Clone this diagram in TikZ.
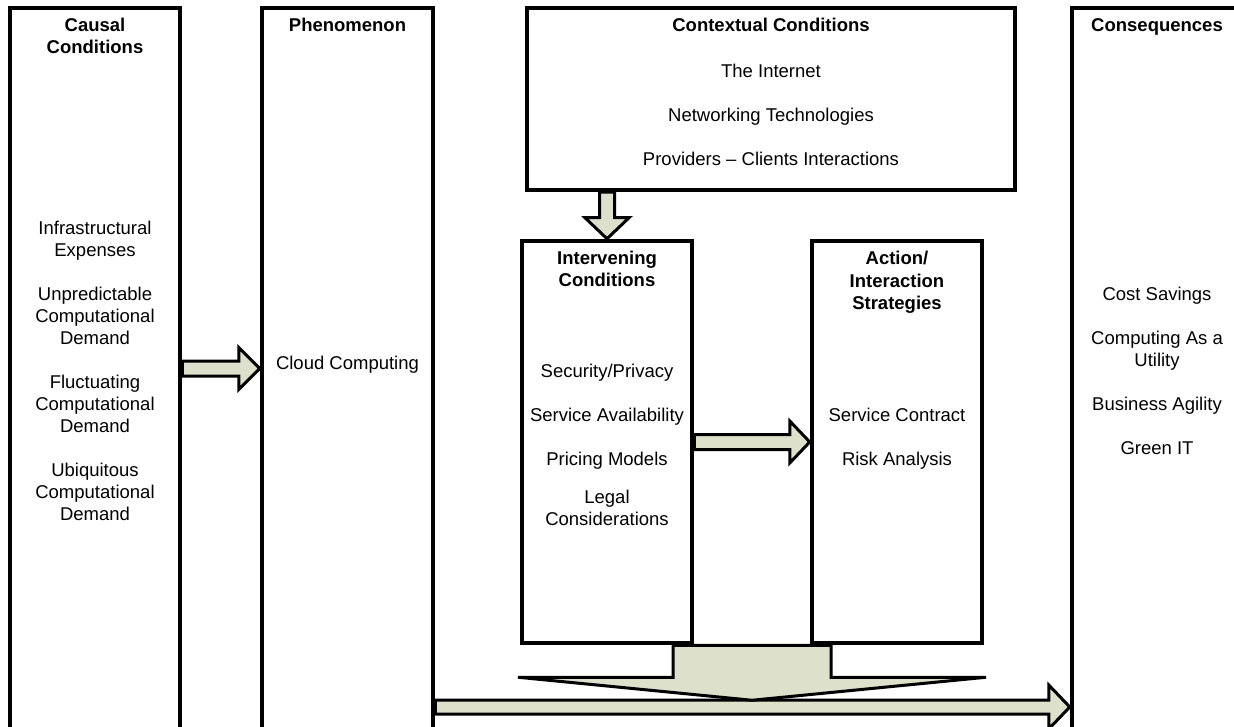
\documentclass[tikz,border=0pt]{standalone}
\usepackage{fontspec}
\setmainfont{Liberation Sans}
\usetikzlibrary{calc,backgrounds}
\definecolor{flowfill}{RGB}{221,225,203}
\tikzset{>=latex}

\begin{document}
\begin{tikzpicture}[x=1pt, y=-1pt,
	stage/.style={draw=black, line width=4.5pt, inner sep=0pt, minimum width=170pt},
	title/.style={font=\fontsize{18.5}{22}\selectfont\bfseries, align=center, anchor=base},
	items/.style={font=\fontsize{18.5}{22}\selectfont, align=center, anchor=base},
	flow/.style={draw=black, line width=3pt, fill=flowfill, line join=miter}]

	\useasboundingbox (0,0) rectangle (1234,727);

	% Boxes

	\node[stage, minimum height=721pt](causal) at (95,368.5) {};

	\node[stage, minimum width=171pt, minimum height=721pt](phenomenon) at (347.5,368.5) {};

	\node[stage, minimum width=488pt, minimum height=182pt](contextual) at (771,99) {};

	\node[stage, minimum height=402pt](intervening) at (607,442) {};

	\node[stage, minimum height=402pt](action) at (897,442) {};

	\node[stage, minimum height=721pt](consequences) at (1157,368.5) {};

	% Titles (placed by the baseline of their last line)

	\node[title](causal-title) at (95,54) {Causal\\Conditions};

	\node[title](phenomenon-title) at (347.5,32) {Phenomenon};

	\node[title](contextual-title) at (771,32) {Contextual Conditions};

	\node[title](intervening-title) at (607,287) {Intervening\\Conditions};

	\node[title](action-title) at (897,309) {Action/\\Interaction\\Strategies};

	\node[title](consequences-title) at (1157,32) {Consequences};

	% Contents

	\node[items](causal-items) at (95,520) {Infrastructural\\Expenses\\[22pt]Unpredictable\\Computational\\Demand\\[22pt]Fluctuating\\Computational\\Demand\\[22pt]Ubiquitous\\Computational\\Demand};

	\node[items](phenomenon-items) at (347.5,369) {Cloud Computing};

	\node[items](contextual-items) at (771,166) {The Internet\\[22pt]Networking Technologies\\[22pt]Providers -- Clients Interactions};

	\node[items](intervening-items) at (607,525) {Security/Privacy\\[22pt]Service Availability\\[22pt]Pricing Models\\[16pt]Legal\\Considerations};

	\node[items](action-items) at (897,465) {Service Contract\\[22pt]Risk Analysis};

	\node[items](consequences-items) at (1157,454) {Cost Savings\\[22pt]Computing As a\\Utility\\[22pt]Business Agility\\[22pt]Green IT};

	% Arrows

	\coordinate (merge) at ($(intervening.south)!0.5!(action.south)$);
	\coordinate (outflow) at (0,707);

	\begin{pgfonlayer}{background}
	\fill[white] (0,0) rectangle (1234,727);

	\draw[flow] ($(causal.east)+(0,-7.5)$) -- ($(phenomenon.west)+(-21,-7.5)$) -- ($(phenomenon.west)+(-21,-21)$) -- (phenomenon.west) -- ($(phenomenon.west)+(-21,21)$) -- ($(phenomenon.west)+(-21,7.5)$) -- ($(causal.east)+(0,7.5)$) -- cycle;

	\draw[flow] ($(intervening.east)+(0,-7.5)$) -- ($(action.west)+(-20,-7.5)$) -- ($(action.west)+(-20,-21)$) -- (action.west) -- ($(action.west)+(-20,21)$) -- ($(action.west)+(-20,7.5)$) -- ($(intervening.east)+(0,7.5)$) -- cycle;

	\draw[flow] ($(intervening.north |- contextual.south)+(-7.5,0)$) -- ($(intervening.north)+(-7.5,-21)$) -- ($(intervening.north)+(-22,-21)$) -- (intervening.north) -- ($(intervening.north)+(22,-21)$) -- ($(intervening.north)+(7.5,-21)$) -- ($(intervening.north |- contextual.south)+(7.5,0)$) -- cycle;

	\draw[flow] ($(phenomenon.east |- outflow)+(0,-7)$) -- ($(consequences.west |- outflow)+(-21,-7)$) -- ($(consequences.west |- outflow)+(-21,-22)$) -- (consequences.west |- outflow) -- ($(consequences.west |- outflow)+(-21,22)$) -- ($(consequences.west |- outflow)+(-21,7)$) -- ($(phenomenon.east |- outflow)+(0,7)$) -- cycle;

	\draw[flow] ($(merge)+(-79,0)$) -- ($(merge)+(-79,32)$) -- ($(merge)+(-234,32)$) -- ($(merge)+(0,55)$) -- ($(merge)+(234,32)$) -- ($(merge)+(79,32)$) -- ($(merge)+(79,0)$) -- cycle;
	\end{pgfonlayer}

\end{tikzpicture}
\end{document}
